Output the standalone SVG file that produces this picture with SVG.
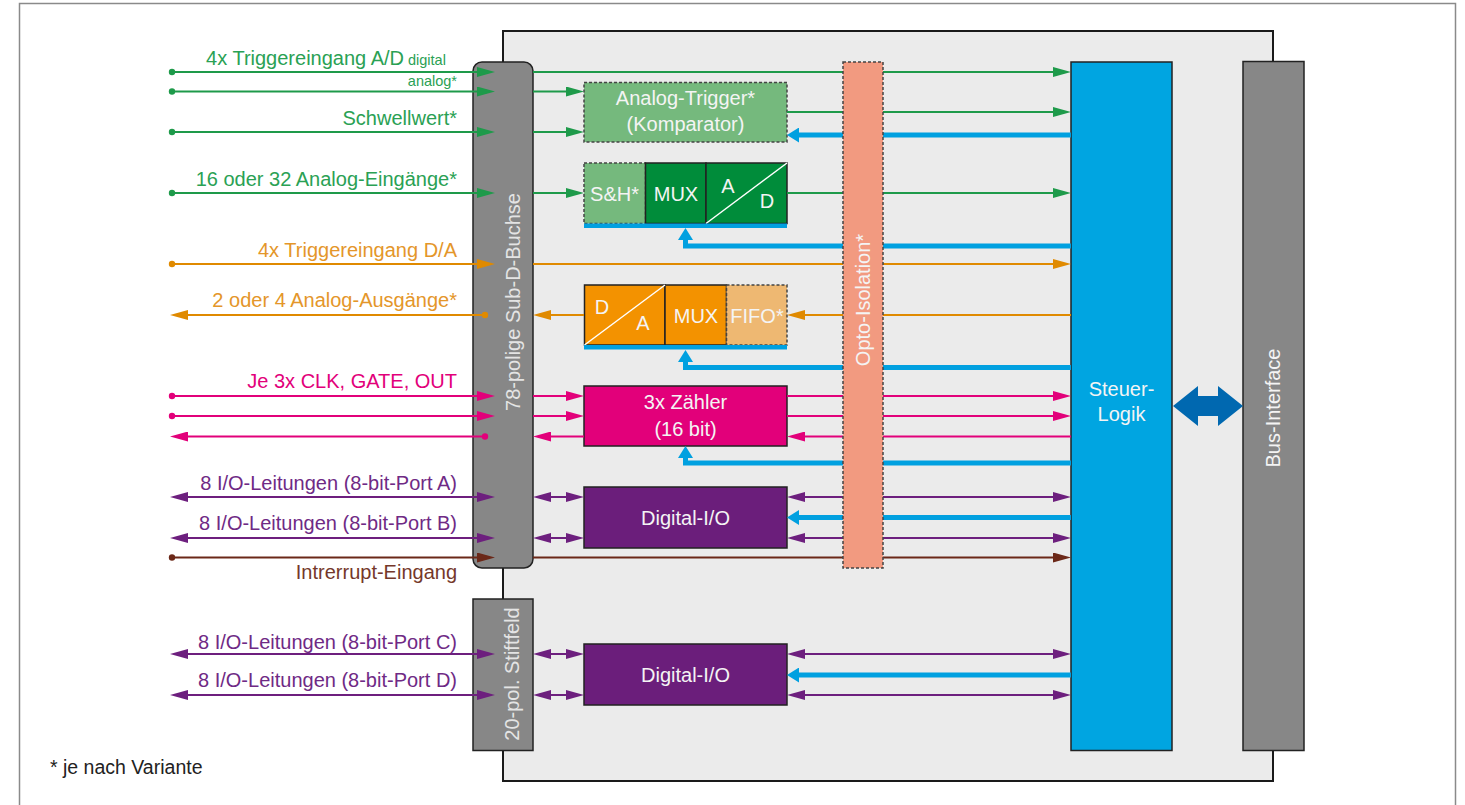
<svg xmlns="http://www.w3.org/2000/svg" width="1465" height="805" viewBox="0 0 1465 805">
<style>
text{font-family:"Liberation Sans",Arial,sans-serif;font-size:20px}
.lbl{text-anchor:end}
.w{fill:#f4f4f4;text-anchor:middle}
.box{stroke:#222;stroke-width:1.5}
.dash{stroke:#444;stroke-width:1.5;stroke-dasharray:3,2}
.g{stroke:#1e9a4a;stroke-width:2;fill:none}
.o{stroke:#e08a00;stroke-width:2;fill:none}
.m{stroke:#e2007a;stroke-width:2;fill:none}
.p{stroke:#6d1f7e;stroke-width:2;fill:none}
.br{stroke:#6b2818;stroke-width:2;fill:none}
.b{stroke:#00a0e0;stroke-width:5;fill:none}
</style>
<defs>
<marker id="ag" viewBox="0 0 18 10" refX="0" refY="5" markerWidth="18" markerHeight="10" markerUnits="userSpaceOnUse" orient="auto-start-reverse"><path d="M0,0 L18,5 L0,10 z" fill="#1e9a4a"/></marker>
<marker id="ao" viewBox="0 0 18 10" refX="0" refY="5" markerWidth="18" markerHeight="10" markerUnits="userSpaceOnUse" orient="auto-start-reverse"><path d="M0,0 L18,5 L0,10 z" fill="#e08a00"/></marker>
<marker id="am" viewBox="0 0 18 10" refX="0" refY="5" markerWidth="18" markerHeight="10" markerUnits="userSpaceOnUse" orient="auto-start-reverse"><path d="M0,0 L18,5 L0,10 z" fill="#e2007a"/></marker>
<marker id="ap" viewBox="0 0 18 10" refX="0" refY="5" markerWidth="18" markerHeight="10" markerUnits="userSpaceOnUse" orient="auto-start-reverse"><path d="M0,0 L18,5 L0,10 z" fill="#6d1f7e"/></marker>
<marker id="abr" viewBox="0 0 18 10" refX="0" refY="5" markerWidth="18" markerHeight="10" markerUnits="userSpaceOnUse" orient="auto-start-reverse"><path d="M0,0 L18,5 L0,10 z" fill="#6b2818"/></marker>
<marker id="ab" viewBox="0 0 12 15" refX="0" refY="7.5" markerWidth="12" markerHeight="15" markerUnits="userSpaceOnUse" orient="auto-start-reverse"><path d="M0,0 L12,7.5 L0,15 z" fill="#00a0e0"/></marker>
</defs>

<rect x="19.5" y="3.5" width="1436" height="830" fill="#fff" stroke="#8a8a8a" stroke-width="1.5"/>

<g id="panel"><rect x="503" y="31" width="770" height="750" fill="#ebebeb" stroke="#1a1a1a" stroke-width="2"/></g>

<g id="bus-interface">
<rect x="1243" y="61.5" width="61" height="689" fill="#878787" class="box"/>
<text class="w" transform="translate(1280,408) rotate(-90)">Bus-Interface</text>
</g>

<g id="steuer-logik">
<rect x="1071" y="62" width="101" height="688.5" fill="#00a5e1" class="box"/>
<text class="w" x="1121.5" y="396">Steuer-</text>
<text class="w" x="1121.5" y="421">Logik</text>
</g>

<g id="bus-arrow">
<polygon points="1173,406 1198,386 1198,396 1218,396 1218,386 1243,406 1218,426 1218,416 1198,416 1198,426" fill="#0068b0"/>
</g>

<g id="sub-d">
<rect x="473" y="62" width="60" height="506" rx="9" fill="#878787" class="box"/>
<text fill="#e4e4e4" text-anchor="middle" transform="translate(520,302) rotate(-90)">78-polige Sub-D-Buchse</text>
</g>

<g id="stiftfeld">
<rect x="473" y="599" width="60" height="151.5" fill="#878787" class="box"/>
<text fill="#e4e4e4" text-anchor="middle" transform="translate(519,674) rotate(-90)">20-pol. Stiftfeld</text>
</g>

<g id="analog-trigger">
<rect x="584" y="82.5" width="203" height="59.5" fill="#75b97d" class="dash"/>
<text class="w" x="685.5" y="105">Analog-Trigger*</text>
<text class="w" x="685.5" y="131">(Komparator)</text>
</g>

<g id="adc">
<rect x="584" y="163" width="61.5" height="60.5" fill="#75b97d" class="dash"/>
<rect x="645.5" y="163" width="60.5" height="60.5" fill="#008c3a" class="box"/>
<rect x="706" y="163" width="81" height="60.5" fill="#008c3a" class="box"/>
<line x1="706" y1="223.5" x2="787" y2="163" stroke="#fff" stroke-width="1.5"/>
<text class="w" x="614.5" y="201">S&amp;H*</text>
<text class="w" x="676" y="201">MUX</text>
<text class="w" x="728" y="193">A</text>
<text class="w" x="767" y="208">D</text>
<rect x="584" y="223.5" width="203" height="4.5" fill="#00a0e0"/>
</g>

<g id="dac">
<rect x="584.5" y="285" width="80.5" height="60" fill="#f39200" class="box"/>
<rect x="665" y="285" width="61.5" height="60" fill="#f39200" class="box"/>
<rect x="726.5" y="285" width="60.5" height="60" fill="#eeb872" class="dash"/>
<line x1="584.5" y1="345" x2="665" y2="285" stroke="#fff" stroke-width="1.5"/>
<text class="w" x="602" y="314">D</text>
<text class="w" x="643" y="330">A</text>
<text class="w" x="696" y="323">MUX</text>
<text class="w" x="757" y="323">FIFO*</text>
<rect x="584" y="345" width="203" height="4.5" fill="#00a0e0"/>
</g>

<g id="zaehler">
<rect x="584" y="386" width="203" height="60" fill="#e2007a" class="box"/>
<text class="w" x="685.5" y="409">3x Zähler</text>
<text class="w" x="685.5" y="436">(16 bit)</text>
</g>

<g id="digital-io-1">
<rect x="584" y="487" width="203" height="61" fill="#6b1e7b" class="box"/>
<text class="w" x="685.5" y="524.5">Digital-I/O</text>
</g>

<g id="digital-io-2">
<rect x="584" y="644" width="203" height="61" fill="#6b1e7b" class="box"/>
<text class="w" x="685.5" y="681.5">Digital-I/O</text>
</g>

<g id="connectors">
<path class="g" d="M172,72 H477" marker-end="url(#ag)"/>
<path class="g" d="M172,91.5 H477" marker-end="url(#ag)"/>
<path class="g" d="M172,132 H477" marker-end="url(#ag)"/>
<path class="g" d="M172,193 H477" marker-end="url(#ag)"/>
<path class="g" d="M533,72 H1053" marker-end="url(#ag)"/>
<path class="g" d="M533,91.5 H566" marker-end="url(#ag)"/>
<path class="g" d="M533,132 H566" marker-end="url(#ag)"/>
<path class="g" d="M533,193 H566" marker-end="url(#ag)"/>
<path class="g" d="M787,112 H1053" marker-end="url(#ag)"/>
<path class="g" d="M787,193 H1053" marker-end="url(#ag)"/>
<g fill="#1e9a4a"><circle cx="172" cy="72" r="3.2"/><circle cx="172" cy="91.5" r="3.2"/><circle cx="172" cy="132" r="3.2"/><circle cx="172" cy="193" r="3.2"/></g>
<path class="o" d="M172,264 H477" marker-end="url(#ao)"/>
<path class="o" d="M485,315 H188" marker-end="url(#ao)"/>
<path class="o" d="M533,264 H1053" marker-end="url(#ao)"/>
<path class="o" d="M584,315 H551" marker-end="url(#ao)"/>
<path class="o" d="M1071,315 H805" marker-end="url(#ao)"/>
<g fill="#e08a00"><circle cx="172" cy="264" r="3.2"/><circle cx="485" cy="315" r="3.2"/></g>
<path class="m" d="M172,396 H477" marker-end="url(#am)"/>
<path class="m" d="M172,416 H477" marker-end="url(#am)"/>
<path class="m" d="M485,436.5 H188" marker-end="url(#am)"/>
<path class="m" d="M533,396 H566" marker-end="url(#am)"/>
<path class="m" d="M533,416 H566" marker-end="url(#am)"/>
<path class="m" d="M584,436.5 H551" marker-end="url(#am)"/>
<path class="m" d="M787,396 H1053" marker-end="url(#am)"/>
<path class="m" d="M787,416 H1053" marker-end="url(#am)"/>
<path class="m" d="M1071,436.5 H805" marker-end="url(#am)"/>
<g fill="#e2007a"><circle cx="172" cy="396" r="3.2"/><circle cx="172" cy="416" r="3.2"/><circle cx="485" cy="436.5" r="3.2"/></g>
<path class="p" d="M188,497 H477" marker-start="url(#ap)" marker-end="url(#ap)"/>
<path class="p" d="M188,538 H477" marker-start="url(#ap)" marker-end="url(#ap)"/>
<path class="p" d="M551,497 H566" marker-start="url(#ap)" marker-end="url(#ap)"/>
<path class="p" d="M551,538 H566" marker-start="url(#ap)" marker-end="url(#ap)"/>
<path class="p" d="M805,497 H1053" marker-start="url(#ap)" marker-end="url(#ap)"/>
<path class="p" d="M805,538 H1053" marker-start="url(#ap)" marker-end="url(#ap)"/>
<path class="p" d="M188,654 H477" marker-start="url(#ap)" marker-end="url(#ap)"/>
<path class="p" d="M188,695 H477" marker-start="url(#ap)" marker-end="url(#ap)"/>
<path class="p" d="M551,654 H566" marker-start="url(#ap)" marker-end="url(#ap)"/>
<path class="p" d="M551,695 H566" marker-start="url(#ap)" marker-end="url(#ap)"/>
<path class="p" d="M805,654 H1053" marker-start="url(#ap)" marker-end="url(#ap)"/>
<path class="p" d="M805,695 H1053" marker-start="url(#ap)" marker-end="url(#ap)"/>
<path class="br" d="M172,557.5 H477" marker-end="url(#abr)"/>
<path class="br" d="M533,557.5 H1053" marker-end="url(#abr)"/>
<circle cx="172" cy="557.5" r="3.2" fill="#6b2818"/>
<path class="b" d="M1071,135 H799" marker-end="url(#ab)"/>
<path class="b" d="M1071,246 H685.5 V240" marker-end="url(#ab)"/>
<path class="b" d="M1071,367.5 H685.5 V362" marker-end="url(#ab)"/>
<path class="b" d="M1071,463 H685.5 V458" marker-end="url(#ab)"/>
<path class="b" d="M1071,517.5 H799" marker-end="url(#ab)"/>
<path class="b" d="M1071,675 H799" marker-end="url(#ab)"/>
</g>

<g id="opto-isolation">
<rect x="843" y="62" width="40" height="506" fill="#f29a80" class="dash"/>
<text class="w" transform="translate(870,300) rotate(-90)">Opto-Isolation*</text>
</g>

<g id="labels">
<text class="lbl" x="404" y="65" fill="#2aa154">4x Triggereingang A/D</text>
<text x="408" y="65" fill="#2aa154" style="font-size:14.5px">digital</text>
<text class="lbl" x="457" y="86" fill="#2aa154" style="font-size:14.5px">analog*</text>
<text class="lbl" x="457" y="125" fill="#2aa154">Schwellwert*</text>
<text class="lbl" x="457" y="186" fill="#2aa154">16 oder 32 Analog-Eingänge*</text>
<text class="lbl" x="457" y="257" fill="#e4962a">4x Triggereingang D/A</text>
<text class="lbl" x="457" y="307" fill="#e4962a">2 oder 4 Analog-Ausgänge*</text>
<text class="lbl" x="457" y="388" fill="#e2007a">Je 3x CLK, GATE, OUT</text>
<text class="lbl" x="457" y="490" fill="#6f2a85">8 I/O-Leitungen (8-bit-Port A)</text>
<text class="lbl" x="457" y="530" fill="#6f2a85">8 I/O-Leitungen (8-bit-Port B)</text>
<text class="lbl" x="457" y="579" fill="#75382a">Intrerrupt-Eingang</text>
<text class="lbl" x="457" y="649" fill="#6f2a85">8 I/O-Leitungen (8-bit-Port C)</text>
<text class="lbl" x="457" y="687" fill="#6f2a85">8 I/O-Leitungen (8-bit-Port D)</text>
<text x="50" y="774" fill="#222" style="font-size:19.5px">* je nach Variante</text>
</g>
</svg>
